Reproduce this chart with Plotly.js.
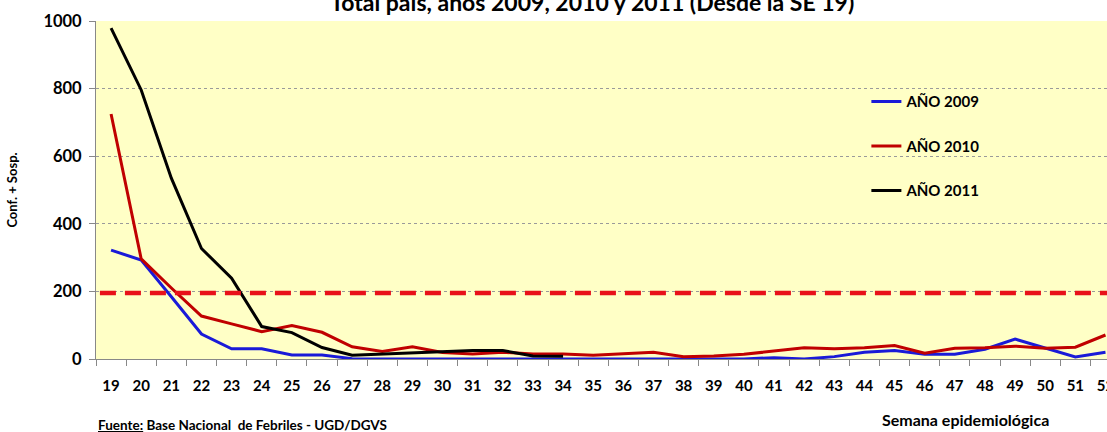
<!DOCTYPE html>
<html>
<head>
<meta charset="utf-8">
<script src="https://cdn.plot.ly/plotly-3.0.1.min.js"></script>
<style>html,body{margin:0;padding:0;background:#fff;}#chart{width:1107px;height:432px;}</style>
</head>
<body>
<div id="chart"></div>
<script>
const semanas = ["19","20","21","22","23","24","25","26","27","28","29","30","31","32","33","34","35","36","37","38","39","40","41","42","43","44","45","46","47","48","49","50","51","52"];
const anio2009 = [322,293,184,74,30,30,12,12,1,0,0,0,0,0,0,0,0,0,0,0,0,0,4,0,7,20,25,14,14,29,59,32,6,20];
const anio2010 = [725,296,210,127,104,81,99,79,36,22,36,19,15,20,15,15,11,15,20,7,9,14,23,33,30,33,40,17,32,33,38,32,35,71];
const semanas2011 = ["19","20","21","22","23","24","25","26","27","28","29","30","31","32","33","34"];
const anio2011 = [979,796,535,327,239,96,78,34,11,15,17,22,25,25,9,8];
const umbral = 195;
const nombres = ["AÑO 2009","AÑO 2010","AÑO 2011"];
const yTicks = [0,200,400,600,800,1000];

const F = "Lato, 'Open Sans', sans-serif";
const traces = [
  {x: semanas, y: anio2009, name: nombres[0], legendgroup:"a", line:{color:"#1a1ad8", width:3}},
  {x: semanas, y: anio2010, name: nombres[1], legendgroup:"b", line:{color:"#c00000", width:3}},
  {x: semanas2011, y: anio2011, name: nombres[2], legendgroup:"c", line:{color:"#000000", width:3}}
].map(t => Object.assign({type:"scatter", mode:"lines", hoverinfo:"skip"}, t));

const layout = {
  width:1107, height:432,
  margin:{l:96, r:0, t:21, b:73, pad:0},
  paper_bgcolor:"#ffffff",
  plot_bgcolor:"#ffffc6",
  font:{family:F, color:"#000", size:14},
  title:{text:"<b>Total país, años 2009, 2010 y 2011 (Desde la SE 19)</b>", font:{family:F, size:23, color:"#000"},
         x:0.535, xanchor:"center", y:1.047, yanchor:"bottom", yref:"container"},
  showlegend:true,
  legend:{x:0.762, xanchor:"left", y:0.81, yanchor:"top", bgcolor:"rgba(0,0,0,0)",
          font:{family:F, size:15, color:"#000", weight:"bold"}, tracegroupgap:22, itemwidth:30},
  xaxis:{type:"category", categoryorder:"array", categoryarray:semanas,
         range:[-0.5, 33.05], tickson:"boundaries", ticks:"outside", ticklen:6, tickcolor:"#888",
         showline:true, linecolor:"#888", linewidth:1, showgrid:false, zeroline:false, ticklabelstandoff:13,
         tickfont:{family:F, size:15, color:"#000", weight:"bold"}, fixedrange:true},
  yaxis:{range:[0,1000], tickvals:yTicks, ticktext:yTicks.map(String), ticks:"outside", ticklen:6, tickcolor:"#888",
         showline:true, linecolor:"#888", linewidth:1, showgrid:true, gridcolor:"#9a9a9a", griddash:"dot", gridwidth:1,
         zeroline:false, tickfont:{family:F, size:16.5, color:"#000", weight:"bold"}, ticklabelstandoff:4,
         title:{text:"<b>Conf. + Sosp.</b>", font:{family:F, size:13, color:"#000"}, standoff:22}},
  shapes:[{type:"line", xref:"x", yref:"y", x0:-0.37, x1:34, y0:umbral, y1:umbral,
           line:{color:"#e8111a", width:4.5, dash:"16px,9px"}}],
  annotations:[
    {text:"<b>Semana epidemiológica</b>", xref:"paper", yref:"paper", x:0.8596, y:-0.180, xanchor:"center", yanchor:"middle",
     showarrow:false, font:{family:F, size:16, color:"#000"}},
    {text:"<b><u>Fuente:</u> Base Nacional  de Febriles - UGD/DGVS</b>", xref:"paper", yref:"paper", x:0.0, y:-0.195, xanchor:"left", yanchor:"middle",
     showarrow:false, font:{family:F, size:13.5, color:"#000"}}
  ]
};
Plotly.newPlot("chart", traces, layout, {staticPlot:true});
</script>
</body>
</html>
